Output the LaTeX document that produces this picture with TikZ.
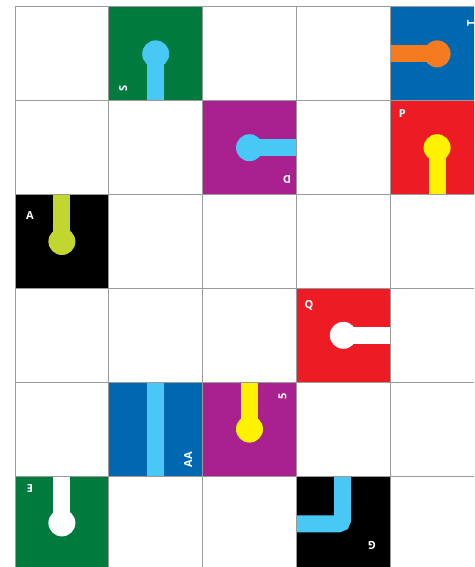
\documentclass[tikz,border=0pt]{standalone}
\usepackage{fontspec}
\setmainfont{Open Sans}
\usetikzlibrary{positioning}

\definecolor{tilegreen}{HTML}{007A3D}
\definecolor{tileblue}{HTML}{0067B1}
\definecolor{tilepurple}{HTML}{A8218E}
\definecolor{tilered}{HTML}{ED1C24}
\definecolor{pipeblue}{HTML}{48C8F5}
\definecolor{pipeorange}{HTML}{F47B20}
\definecolor{pipeyellow}{HTML}{FFF200}
\definecolor{pipelime}{HTML}{C1D72F}
\definecolor{gridgray}{HTML}{9A9A9A}

\begin{document}
\begin{tikzpicture}[
    x=1pt, y=-1pt,
    cell/.style={minimum size=93.8pt, inner sep=0pt, outer sep=0pt},
    pipe/.style={line width=17pt},
    tag/.style={text=white, font=\bfseries\fontsize{11}{11}\selectfont, inner sep=0pt},
    gridline/.style={draw=gridgray, line width=1pt}
]
\useasboundingbox (0,0) rectangle (474,567);
\clip (0,0) rectangle (474,567);

% coloured tiles
\node[cell, fill=tilegreen]  (S)  at (155.7,53.9)  {};
\node[cell, fill=tileblue]   (T)  at (437.1,53.9)  {};
\node[cell, fill=tilepurple] (D)  at (249.5,147.7) {};
\node[cell, fill=tilered]    (P)  at (437.1,147.7) {};
\node[cell, fill=black]      (A)  at (61.9,241.5)  {};
\node[cell, fill=tilered]    (Q)  at (343.3,335.3) {};
\node[cell, fill=tileblue]   (AA) at (155.7,429.1) {};
\node[cell, fill=tilepurple] (F)  at (249.5,429.1) {};
\node[cell, fill=tilegreen]  (E)  at (61.9,522.9)  {};
\node[cell, fill=black]      (G)  at (343.3,522.9) {};

% pipes
\draw[pipe, pipeblue] (S.center) -- (S.south);
\fill[pipeblue] (S.center) circle (13.5pt);
\draw[pipe, pipeorange] (T.center) -- (T.west);
\fill[pipeorange] (T.center) circle (13.5pt);
\draw[pipe, pipeblue] (D.center) -- (D.east);
\fill[pipeblue] (D.center) circle (13.5pt);
\draw[pipe, pipeyellow] (P.center) -- (P.south);
\fill[pipeyellow] (P.center) circle (13.5pt);
\draw[pipe, pipelime] (A.center) -- (A.north);
\fill[pipelime] (A.center) circle (13.5pt);
\draw[pipe, white] (Q.center) -- (Q.east);
\fill[white] (Q.center) circle (13.5pt);
\draw[pipe, pipeblue] (AA.north) -- (AA.south);
\draw[pipe, pipeyellow] (F.center) -- (F.north);
\fill[pipeyellow] (F.center) circle (13.5pt);
\draw[pipe, white] (E.center) -- (E.north);
\fill[white] (E.center) circle (13.5pt);
\draw[pipe, pipeblue, rounded corners=4pt] ([xshift=-0.8pt]G.north) |- ([yshift=-0.9pt]G.west);

% grid
\foreach \i in {0,...,4}
    \draw[gridline] ({15+93.8*\i},7) -- ({15+93.8*\i},567);
\foreach \j in {0,...,5}
    \draw[gridline] (15,{7+93.8*\j}) -- (474,{7+93.8*\j});

% tile letters
\node[tag, rotate=90]  (lS)  at ([shift={(14.5,81.5)}]S.north west) {S};
\node[tag, rotate=90]  (lT)  at ([shift={(81,16.5)}]T.north west)   {T};
\node[tag, rotate=180] (lD)  at ([shift={(84.5,79)}]D.north west)   {D};
\node[tag]             (lP)  at ([shift={(12,13)}]P.north west)     {P};
\node[tag]             (lA)  at ([shift={(15,21)}]A.north west)     {A};
\node[tag]             (lQ)  at ([shift={(12.5,17)}]Q.north west)   {Q};
\node[tag, rotate=90]  (lAA) at ([shift={(79.5,77.5)}]AA.north west) {AA};
\node[tag, rotate=90]  (lF)  at ([shift={(80,14)}]F.north west)     {5};
\node[tag, rotate=180] (lE)  at ([shift={(15,12)}]E.north west)     {E};
\node[tag, rotate=180] (lG)  at ([shift={(75.5,69.5)}]G.north west) {G};

\end{tikzpicture}
\end{document}
